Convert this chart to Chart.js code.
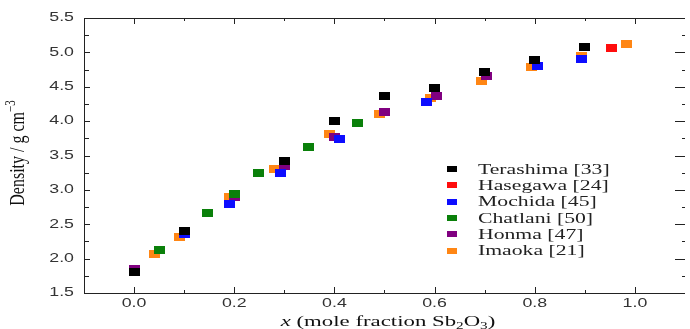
<!DOCTYPE html>
<html>
<head>
<meta charset="utf-8">
<script src="https://cdn.jsdelivr.net/npm/chart.js@4"></script>
<style>
  body { margin: 0; background: #fff; }
  #wrap { width: 690px; height: 329px; position: relative; }
</style>
</head>
<body>
<div id="wrap"><canvas id="c"></canvas></div>
<script>
/* ===== データ ===== */
const seriesNames = ['Terashima [33]', 'Hasegawa [24]', 'Mochida [45]', 'Chatlani [50]', 'Honma [47]', 'Imaoka [21]'];
const seriesColors = ['#000000', '#ff0d0d', '#0d0dff', '#0a800a', '#800080', '#ff8614'];

const terashimaX = [0.0, 0.1, 0.3, 0.4, 0.5, 0.6, 0.7, 0.8, 0.9];
const terashimaY = [1.80, 2.40, 3.42, 4.00, 4.37, 4.48, 4.72, 4.89, 5.08];
const hasegawaX = [0.954];
const hasegawaY = [5.07];
const mochidaX = [0.1, 0.19, 0.292, 0.411, 0.584, 0.806, 0.894];
const mochidaY = [2.36, 2.80, 3.25, 3.74, 4.28, 4.80, 4.91];
const chatlaniX = [0.0, 0.05, 0.146, 0.2, 0.249, 0.3, 0.348, 0.447];
const chatlaniY = [1.81, 2.13, 2.66, 2.94, 3.24, 3.42, 3.63, 3.97];
const honmaX = [0.0, 0.1, 0.2, 0.3, 0.4, 0.5, 0.604, 0.703];
const honmaY = [1.85, 2.38, 2.89, 3.35, 3.77, 4.13, 4.36, 4.65];
const imaokaX = [0.04, 0.09, 0.19, 0.28, 0.391, 0.491, 0.592, 0.693, 0.793, 0.893, 0.984];
const imaokaY = [2.07, 2.31, 2.89, 3.30, 3.82, 4.10, 4.33, 4.58, 4.79, 4.95, 5.12];

const xTicks = [0.0, 0.2, 0.4, 0.6, 0.8, 1.0];
const xTickLabels = ['0.0', '0.2', '0.4', '0.6', '0.8', '1.0'];
const yTicks = [1.5, 2.0, 2.5, 3.0, 3.5, 4.0, 4.5, 5.0, 5.5];
const yTickLabels = ['1.5', '2.0', '2.5', '3.0', '3.5', '4.0', '4.5', '5.0', '5.5'];

const allX = [terashimaX, hasegawaX, mochidaX, chatlaniX, honmaX, imaokaX];
const allY = [terashimaY, hasegawaY, mochidaY, chatlaniY, honmaY, imaokaY];

/* 横長の四角マーカー */
function rectMarker(color, w, h) {
  const cv = document.createElement('canvas');
  cv.width = w; cv.height = h;
  const c = cv.getContext('2d');
  c.fillStyle = color;
  c.fillRect(0, 0, w, h);
  return cv;
}

/* 横に引き伸ばしたテキスト */
function sText(ctx, txt, x, y, align, sx) {
  ctx.save();
  ctx.translate(x, y);
  ctx.scale(sx, 1);
  ctx.textAlign = align;
  ctx.fillText(txt, 0, 0);
  ctx.restore();
}

const INK = '#222';

const framePlugin = {
  id: 'frame',
  beforeDatasetsDraw(chart) {
    const { ctx, chartArea: a, scales: { x, y } } = chart;
    ctx.save();
    ctx.strokeStyle = INK;
    ctx.lineWidth = 1;
    ctx.beginPath();
    ctx.moveTo(a.right, a.top + 0.5);
    ctx.lineTo(a.left + 0.5, a.top + 0.5);
    ctx.lineTo(a.left + 0.5, a.bottom + 0.5);
    ctx.lineTo(a.right, a.bottom + 0.5);
    // x 目盛り (内向き)
    for (let i = 0; i <= 10; i++) {
      const v = i / 10;
      const px = Math.round(x.getPixelForValue(v)) + 0.5;
      const len = i % 2 === 0 ? 6 : 3;
      ctx.moveTo(px, a.bottom); ctx.lineTo(px, a.bottom - len);
      ctx.moveTo(px, a.top); ctx.lineTo(px, a.top + len);
    }
    // y 目盛り
    for (let i = 0; i <= 16; i++) {
      const v = 1.5 + i * 0.25;
      const py = Math.round(y.getPixelForValue(v)) + 0.5;
      const major = i % 2 === 0;
      ctx.moveTo(a.left, py); ctx.lineTo(a.left + (major ? 6 : 5), py);
      ctx.moveTo(a.right, py); ctx.lineTo(a.right - (major ? 10 : 3), py);
    }
    ctx.stroke();

    // 目盛りラベル
    ctx.fillStyle = '#333';
    ctx.font = '12px "Liberation Sans", Arial, sans-serif';
    ctx.textBaseline = 'middle';
    xTicks.forEach((v, i) => sText(ctx, xTickLabels[i], x.getPixelForValue(v), 304, 'center', 1.48));
    yTicks.forEach((v, i) => sText(ctx, yTickLabels[i], 74, y.getPixelForValue(v), 'right', 1.48));

    // x 軸タイトル
    ctx.fillStyle = '#111';
    ctx.textBaseline = 'alphabetic';
    const parts = [
      { t: 'x', f: 'italic 15px "Liberation Serif", serif', dy: 0 },
      { t: ' (mole fraction Sb', f: '15px "Liberation Serif", serif', dy: 0 },
      { t: '2', f: '10px "Liberation Serif", serif', dy: 3 },
      { t: 'O', f: '15px "Liberation Serif", serif', dy: 0 },
      { t: '3', f: '10px "Liberation Serif", serif', dy: 3 },
      { t: ')', f: '15px "Liberation Serif", serif', dy: 0 },
    ];
    const sx = 1.52;
    let tw = 0;
    parts.forEach(p => { ctx.font = p.f; p.w = ctx.measureText(p.t).width; tw += p.w; });
    let cx = 388 - tw * sx / 2;
    parts.forEach(p => {
      ctx.font = p.f;
      sText(ctx, p.t, cx, 326 + p.dy, 'left', sx);
      cx += p.w * sx;
    });

    // y 軸タイトル
    ctx.save();
    ctx.translate(24, 153);
    ctx.rotate(-Math.PI / 2);
    ctx.scale(1, 1.25);
    ctx.font = '16px "Liberation Serif", serif';
    const main = 'Density / g cm';
    const mw = ctx.measureText(main).width;
    ctx.font = '11px "Liberation Serif", serif';
    const sup = '\u22123';
    const sw = ctx.measureText(sup).width;
    const start = -(mw + sw) / 2;
    ctx.font = '16px "Liberation Serif", serif';
    ctx.textAlign = 'left';
    ctx.fillText(main, start, 0);
    ctx.font = '11px "Liberation Serif", serif';
    ctx.fillText(sup, start + mw, -7);
    ctx.restore();
    ctx.restore();
  },
  afterDatasetsDraw(chart) {
    const { ctx } = chart;
    ctx.save();
    ctx.font = '14px "Liberation Serif", serif';
    ctx.textBaseline = 'middle';
    seriesNames.forEach((n, i) => {
      const cy = 169 + i * 16.3;
      ctx.fillStyle = seriesColors[i];
      ctx.fillRect(447, Math.round(cy - 3), 10, 6);
      ctx.fillStyle = '#222';
      sText(ctx, n, 478, cy + 1, 'left', 1.55);
    });
    ctx.restore();
  },
};

new Chart(document.getElementById('c'), {
  type: 'scatter',
  data: {
    datasets: seriesNames.map((n, i) => ({
      label: n,
      data: allX[i].map((v, j) => ({ x: v, y: allY[i][j] })),
      pointStyle: rectMarker(seriesColors[i], 11, 8),
      backgroundColor: seriesColors[i],
      borderColor: seriesColors[i],
    })),
  },
  options: {
    responsive: true,
    maintainAspectRatio: false,
    animation: false,
    layout: { padding: { top: 18, right: 0, left: 0, bottom: 0 } },
    plugins: { legend: { display: false }, tooltip: { enabled: false } },
    scales: {
      x: {
        type: 'linear', min: -0.1, max: 1.1,
        grid: { display: false }, border: { display: false },
        ticks: { display: false },
        afterFit: s => { s.height = 36; },
      },
      y: {
        min: 1.5, max: 5.5,
        grid: { display: false }, border: { display: false },
        ticks: { display: false },
        afterFit: s => { s.width = 84; },
      },
    },
  },
  plugins: [framePlugin],
});
</script>
</body>
</html>
